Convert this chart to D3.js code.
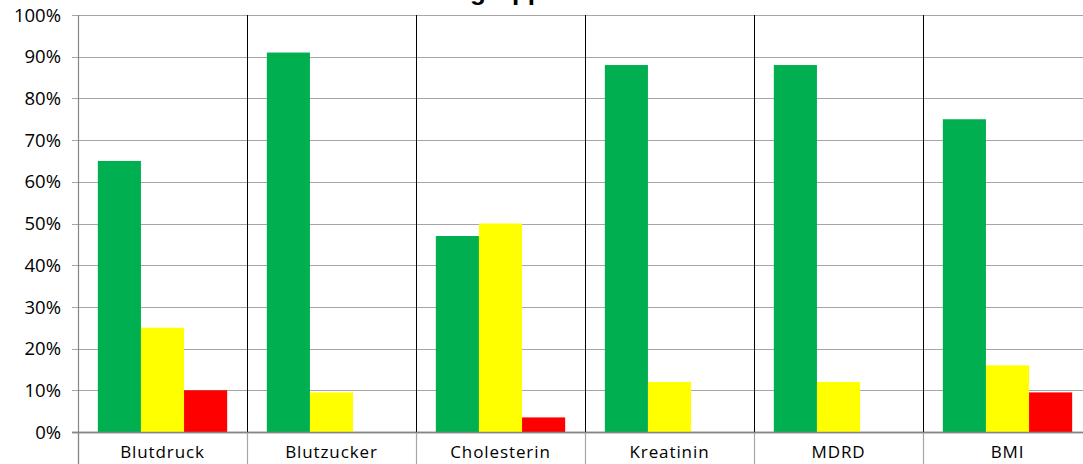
<!DOCTYPE html>
<html>
<head>
<meta charset="utf-8">
<script src="https://cdn.jsdelivr.net/npm/d3@7"></script>
<style>
  html, body { margin: 0; padding: 0; background: #fff; }
  svg { display: block; }
</style>
</head>
<body>
<svg id="chart" width="1083" height="464"></svg>
<script>
const categories = ["Blutdruck", "Blutzucker", "Cholesterin", "Kreatinin", "MDRD", "BMI"];
const seriesNames = ["grün", "gelb", "rot"];
const greenValues = [65, 91, 47, 88, 88, 75];
const yellowValues = [25, 9.5, 50, 12, 12, 16];
const redValues = [10, 0, 3.5, 0, 0, 9.5];
const seriesColors = ["#00B050", "#FFFF00", "#FF0000"];
const yTicks = [0, 10, 20, 30, 40, 50, 60, 70, 80, 90, 100];
const titleText = "Risikogruppe";

(function () {
const svg = d3.select("#chart");
const plotLeft = 78, plotRight = 1092, plotTop = 15, plotBottom = 432, H = 464;

const x = d3.scaleBand().domain(categories).range([plotLeft, plotRight]).paddingInner(0).paddingOuter(0);
const xs = d3.scaleBand().domain(seriesNames).range([0, x.bandwidth()]).paddingInner(0).paddingOuter(0.46);
const y = d3.scaleLinear().domain([0, 100]).range([plotBottom, plotTop]);

const seriesValues = [greenValues, yellowValues, redValues];

// title (clipped at the top, as in the reference)
svg.append("text")
  .attr("x", 392).attr("y", 0)
  .attr("font-family", "Liberation Sans, Arial, sans-serif")
  .attr("font-weight", "bold")
  .attr("font-size", 26)
  .attr("fill", "#000")
  .text(titleText);

// gridlines
svg.append("g").selectAll("line").data(yTicks).join("line")
  .attr("x1", plotLeft - 6).attr("x2", plotRight)
  .attr("y1", d => Math.round(y(d)) + 0.5).attr("y2", d => Math.round(y(d)) + 0.5)
  .attr("stroke", d => d === 0 ? "#868686" : "#a6a6a6")
  .attr("stroke-width", d => d === 0 ? 1.5 : 1);

// y labels
svg.append("g").selectAll("text").data(yTicks).join("text")
  .attr("x", 61).attr("y", d => y(d))
  .attr("dy", "0.36em")
  .attr("text-anchor", "end")
  .attr("font-family", "Open Sans, sans-serif")
  .attr("font-size", 18.5)
  .attr("fill", "#000")
  .text(d => d + "%");

// category separators (black inside plot)
const boundaries = categories.slice(1).map(c => x(c));
svg.append("g").selectAll("line").data(boundaries).join("line")
  .attr("x1", d => Math.round(d) + 0.5).attr("x2", d => Math.round(d) + 0.5)
  .attr("y1", plotTop).attr("y2", plotBottom)
  .attr("stroke", "#000").attr("stroke-width", 1);

// ticks below axis
const allBounds = categories.map(c => x(c)).concat([plotRight]);
svg.append("g").selectAll("line").data(allBounds).join("line")
  .attr("x1", d => Math.round(d) + 0.5).attr("x2", d => Math.round(d) + 0.5)
  .attr("y1", plotBottom).attr("y2", H)
  .attr("stroke", "#a6a6a6").attr("stroke-width", 1.2);

// bars
const groups = svg.append("g").selectAll("g").data(categories).join("g")
  .attr("transform", c => `translate(${x(c)},0)`);
groups.selectAll("rect")
  .data((c, i) => seriesNames.map((s, j) => ({ s, v: seriesValues[j][i], color: seriesColors[j] })))
  .join("rect")
  .attr("x", d => xs(d.s))
  .attr("width", xs.bandwidth())
  .attr("y", d => y(d.v))
  .attr("height", d => y(0) - y(d.v))
  .attr("fill", d => d.color);

// y axis line
svg.append("line")
  .attr("x1", plotLeft + 0.5).attr("x2", plotLeft + 0.5)
  .attr("y1", plotTop).attr("y2", H)
  .attr("stroke", "#868686").attr("stroke-width", 1.2);

// redraw baseline over bars
svg.append("line")
  .attr("x1", plotLeft - 6).attr("x2", plotRight)
  .attr("y1", Math.round(y(0)) + 0.5).attr("y2", Math.round(y(0)) + 0.5)
  .attr("stroke", "#868686").attr("stroke-width", 1.5);

// x labels
svg.append("g").selectAll("text").data(categories).join("text")
  .attr("x", c => x(c) + x.bandwidth() / 2)
  .attr("y", 458)
  .attr("text-anchor", "middle")
  .attr("font-family", "Open Sans, sans-serif")
  .attr("font-size", 17)
  .attr("letter-spacing", "0.9px")
  .attr("fill", "#000")
  .text(c => c);
})();
</script>
</body>
</html>
